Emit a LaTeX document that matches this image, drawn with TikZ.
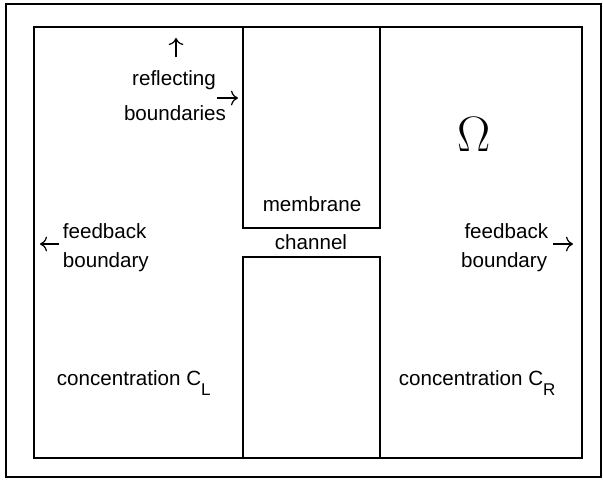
\documentclass[tikz,border=0pt]{standalone}
\usepackage{fontspec}
\setmainfont{Liberation Sans}
\usetikzlibrary{arrows.meta}
\newcommand{\sublbl}[1]{\raisebox{-0.95ex}{\fontsize{8.5}{8.5}\selectfont #1}}
\begin{document}
\begin{tikzpicture}[x=0.5pt,y=-0.5pt,line width=0.9pt,
  lbl/.style={font=\fontsize{10.3}{12}\selectfont,inner sep=0pt},
  pointer/.style={-{To[scale=1.2]},line width=0.6pt}]
\useasboundingbox (0,0) rectangle (603,479);
% Frame
\path[draw] (6,4) rectangle (601,477);
% Domain
\path[draw] (34,27) rectangle (582,458);
% Membrane
\path[draw] (243,27) -- (243,228) -- (380,228) -- (380,27);
\path[draw] (243,458) -- (243,257) -- (380,257) -- (380,458);
% Labels
\node[lbl] (membrane) at (312,204) {membrane};
\node[lbl] (channel) at (311,242) {channel};
\node[font=\fontsize{24}{24}\selectfont,inner sep=0pt] (omega) at (474,134) {$\Omega$};
\node[lbl] (refl) at (174,80) {reflecting};
\node[lbl] (bnds) at (175,113) {boundaries};
\node[lbl,anchor=west] (fbl) at (62,231) {feedback};
\node[lbl,anchor=west] (bdl) at (62,262) {boundary};
\node[lbl,anchor=east] (fbr) at (549,231) {feedback};
\node[lbl,anchor=east] (bdr) at (548,262) {boundary};
\node[lbl,anchor=west] (conl) at (56,383) {concentration C\sublbl{L}};
\node[lbl,anchor=west] (conr) at (398,383) {concentration C\sublbl{R}};
% Pointers
\coordinate (upa) at (176,57);
\coordinate (upb) at (176,38);
\coordinate (ria) at (217,98);
\coordinate (rib) at (238,98);
\coordinate (lfa) at (59,244);
\coordinate (lfb) at (40,244);
\coordinate (rfa) at (553,244);
\coordinate (rfb) at (573,244);
\draw[pointer] (upa) -- (upb);
\draw[pointer] (ria) -- (rib);
\draw[pointer] (lfa) -- (lfb);
\draw[pointer] (rfa) -- (rfb);
\end{tikzpicture}
\end{document}
